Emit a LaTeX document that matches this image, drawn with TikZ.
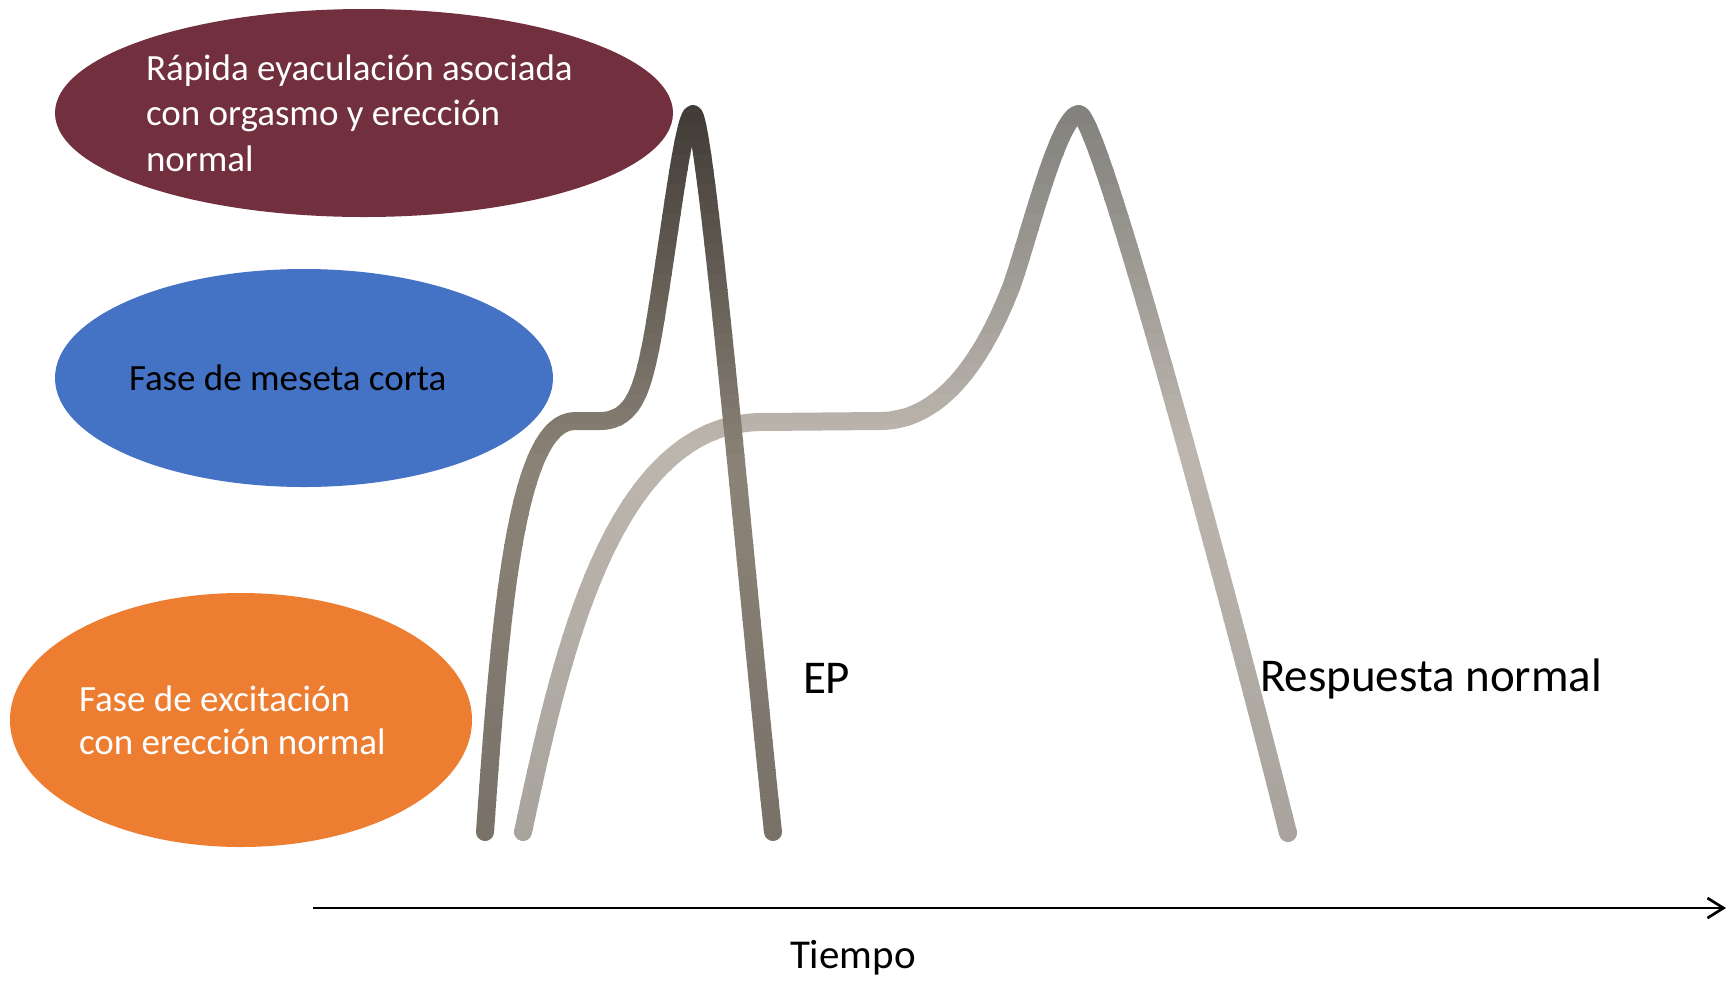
\documentclass[tikz,border=0pt]{standalone}
\usepackage{fontspec}
\setmainfont{Carlito}
\usetikzlibrary{arrows.meta,shapes.geometric}
\definecolor{emaroon}{RGB}{114,47,62}
\definecolor{eblue}{RGB}{68,114,196}
\definecolor{eorange}{RGB}{237,125,49}
\definecolor{dkA}{RGB}{62,58,52}
\definecolor{dkB}{RGB}{140,131,120}
\definecolor{dkC}{RGB}{120,113,104}
\definecolor{ltA}{RGB}{130,129,125}
\definecolor{ltB}{RGB}{188,182,174}
\definecolor{ltC}{RGB}{168,164,157}
\def\darkpath{(485,832) .. controls (500,620) and (515,421) .. (575,421) -- (600,421) .. controls (635,421) and (643,385) .. (652,340) .. controls (668,250) and (683,114) .. (693,114) .. controls (706,114) and (750,620) .. (773,832)}
\def\lightpath{(523,832) .. controls (560,660) and (610,425) .. (760,422) -- (880,421) .. controls (950,421) and (990,340) .. (1010,290) .. controls (1025,252) and (1058,114) .. (1079,114) .. controls (1100,114) and (1240,640) .. (1288,833)}
\begin{document}
\begin{tikzpicture}[x=0.5pt,y=-0.5pt,
  blob/.style={ellipse, draw=none, inner sep=0pt, outer sep=0pt},
  lbl/.style={inner sep=0pt, outer sep=0pt, anchor=base west, align=left},
  small/.style={font=\fontsize{18.5pt}{22.75pt}\selectfont},
  big/.style={font=\fontsize{23.5pt}{28pt}\selectfont},
  curve/.style={line width=9pt, line cap=round, line join=round},
  axis/.style={line width=1.35pt, -{Straight Barb[length=8pt,width=10pt]}}]
\useasboundingbox (0,0) rectangle (1728,982);
% ellipses
\node[blob, fill=emaroon, minimum width=309pt, minimum height=104pt] (e1) at (364,113) {};
\node[blob, fill=eblue, minimum width=249pt, minimum height=109pt] (e2) at (304,378) {};
\node[blob, fill=eorange, minimum width=231pt, minimum height=127pt] (e3) at (241,720) {};
% texts in ellipses (base anchor = last line baseline)
\node[lbl, small, text=white] (t1) at (146,171) {Rápida eyaculación asociada\\con orgasmo y erección\\normal};
\node[lbl, small, text=black] (t2) at (129,390) {Fase de meseta corta};
\node[lbl, font=\fontsize{18.5pt}{21.5pt}\selectfont, text=white] (t3) at (79,754) {Fase de excitación\\con erección normal};
% curves with vertical gradient
\foreach \i in {0,...,51}{
  \pgfmathsetmacro{\ya}{95+\i*15}
  \pgfmathsetmacro{\ym}{\ya+7.5}
  \pgfmathsetmacro{\pl}{\ym<450 ? min(100,(450-\ym)/3.4) : min(100,(\ym-450)/3.9)}
  \ifdim\ym pt<450pt \colorlet{bandL}{ltA!\pl!ltB}\else\colorlet{bandL}{ltC!\pl!ltB}\fi
  \begin{scope}
    \clip (0,\ya-0.8) rectangle (1728,\ya+15.8);
    \draw[curve, bandL] \lightpath;
  \end{scope}
}
\foreach \i in {0,...,51}{
  \pgfmathsetmacro{\ya}{95+\i*15}
  \pgfmathsetmacro{\ym}{\ya+7.5}
  \pgfmathsetmacro{\pd}{\ym<470 ? min(100,(470-\ym)/3.7) : min(100,(\ym-470)/3.7)}
  \ifdim\ym pt<470pt \colorlet{bandD}{dkA!\pd!dkB}\else\colorlet{bandD}{dkC!\pd!dkB}\fi
  \begin{scope}
    \clip (0,\ya-0.8) rectangle (1728,\ya+15.8);
    \draw[curve, bandD] \darkpath;
  \end{scope}
}
% labels
\node[lbl, big] (ep) at (803,693) {EP};
\node[lbl, big] (rn) at (1260,691) {Respuesta normal};
% axis
\coordinate (a0) at (313,908);
\coordinate (a1) at (1726,908);
\draw[axis] (a0) -- (a1);
\node[lbl, font=\fontsize{20.5pt}{24pt}\selectfont] (ti) at (790,968) {Tiempo};
\end{tikzpicture}
\end{document}
